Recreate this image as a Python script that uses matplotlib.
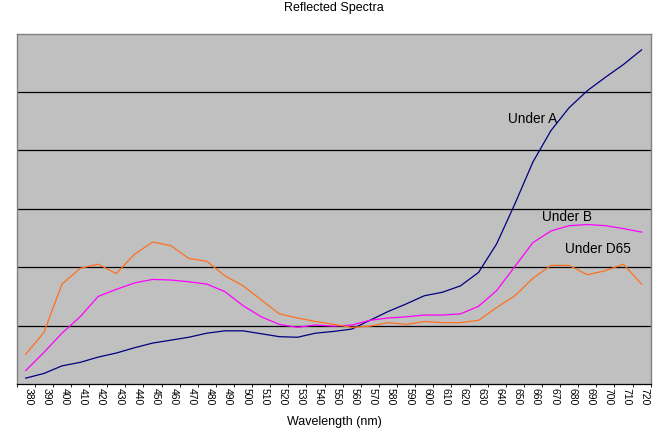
import numpy as np
import matplotlib
matplotlib.use("Agg")
import matplotlib.pyplot as plt
import matplotlib.transforms as mtransforms

plt.rcParams['font.family'] = ['Liberation Sans', 'DejaVu Sans']

wavelengths = list(range(380, 721, 10))
under_a = [0.10, 0.18, 0.31, 0.37, 0.46, 0.53, 0.62, 0.70, 0.75, 0.80, 0.87, 0.91,
           0.91, 0.86, 0.81, 0.80, 0.87, 0.90,
           0.94, 1.09, 1.24, 1.37, 1.51, 1.57, 1.68, 1.91, 2.40, 3.08, 3.80, 4.34,
           4.73, 5.02, 5.25, 5.47, 5.72]
under_b = [0.23, 0.54, 0.87, 1.15, 1.50, 1.62, 1.73, 1.79, 1.78, 1.75, 1.71, 1.58,
           1.34, 1.15, 1.02, 0.97, 1.01, 0.99,
           1.01, 1.09, 1.13, 1.15, 1.18, 1.18, 1.20, 1.33, 1.60, 2.01, 2.42, 2.62,
           2.71, 2.73, 2.71, 2.66, 2.60]
under_d65 = [0.51, 0.88, 1.71, 1.98, 2.05, 1.89, 2.22, 2.43, 2.37, 2.15, 2.10, 1.85,
             1.68, 1.44, 1.20, 1.13, 1.07, 1.02,
             0.97, 0.99, 1.05, 1.02, 1.07, 1.05, 1.05, 1.09, 1.31, 1.51, 1.81, 2.03,
             2.03, 1.87, 1.94, 2.05, 1.71]
series_names = ["Under A", "Under B", "Under D65"]
label_pos = [(660, 4.53), (679, 2.86), (696, 2.31)]

fig = plt.figure(figsize=(6.68, 4.33), dpi=100)
ax = fig.add_axes([0.025, 0.1132, 0.949, 0.8094])
ax.set_facecolor('#c0c0c0')

colors = ['#000080', '#ff00ff', '#ff7020']
for vals, c in zip([under_a, under_b, under_d65], colors):
    ax.plot(wavelengths, vals, color=c, lw=0.9)

for name, (x, y) in zip(series_names, label_pos):
    ax.text(x, y, name, fontsize=9.8, ha='center', va='center', color='black')

ax.set_xlim(377.6, 722.6)
ax.set_ylim(0, 6)
ax.set_yticks([])
for yv in range(1, 6):
    ax.axhline(yv, color='black', lw=0.9, zorder=1)

ax.set_xticks(wavelengths)
ax.set_xticklabels([str(w) for w in wavelengths], rotation=-90, fontsize=7.5)
ax.tick_params(axis='x', length=0, pad=3)
ax.set_xticks([w - 5 for w in wavelengths] + [725], minor=True)
ax.tick_params(axis='x', which='minor', length=2, width=0.6, direction='out')
offset = mtransforms.ScaledTranslation(3 / 100, 0, fig.dpi_scale_trans)
for lab in ax.get_xticklabels():
    lab.set_transform(lab.get_transform() + offset)

for side in ['top', 'right', 'left']:
    ax.spines[side].set_color('#808080')
    ax.spines[side].set_linewidth(1.0)
ax.spines['bottom'].set_color('black')
ax.spines['bottom'].set_linewidth(0.9)

fig.text(0.5, 1 - 8.5 / 433, "Reflected Spectra", ha='center', va='center', fontsize=9)
fig.text(0.5, 1 - 422 / 433, "Wavelength (nm)", ha='center', va='center', fontsize=9)

fig.savefig("out.png", dpi=100, facecolor='white')
